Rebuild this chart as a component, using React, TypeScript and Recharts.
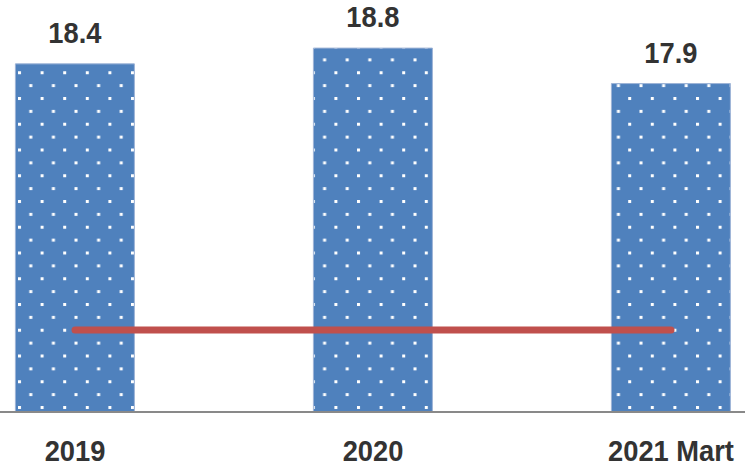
import React from "react";
import { ComposedChart, Bar, Line, XAxis, YAxis, LabelList } from "recharts";

const categories = ["2019", "2020", "2021 Mart"];
const barValues = [18.4, 18.8, 17.9];
const lineValues = [11.65, 11.65, 11.65];
const yDomain: [number, number] = [9.57, 20.02];

const data = categories.map((c, i) => ({ name: c, bar: barValues[i], line: lineValues[i] }));

const FONT = "'Liberation Sans', Arial, sans-serif";
const SX = 0.91;

const Tick = (props: any) => {
  const { x, y, payload } = props;
  return (
    <g transform={`translate(${x},${y + 41}) scale(${SX},1)`}>
      <text x={0} y={0} textAnchor="middle" fontFamily={FONT} fontWeight="bold" fontSize={30} fill="#333333">
        {payload.value}
      </text>
    </g>
  );
};

const BarLabel = (props: any) => {
  const { x, y, width, value } = props;
  return (
    <g transform={`translate(${x + width / 2},${y - 21}) scale(${SX},1)`}>
      <text x={0} y={0} textAnchor="middle" fontFamily={FONT} fontWeight="bold" fontSize={30} fill="#333333">
        {Number(value).toFixed(1)}
      </text>
    </g>
  );
};

export default function App() {
  return (
    <div style={{ position: "absolute", left: 0, top: 0, width: 745, height: 467, overflow: "hidden", background: "#fff" }}>
      <div style={{ position: "absolute", left: -74, top: 0 }}>
        <ComposedChart width={894} height={467} data={data} margin={{ top: 0, right: 0, bottom: 0, left: 0 }} barCategoryGap="30%">
          <defs>
            <pattern id="dots" patternUnits="userSpaceOnUse" x={92} y={406} width={22.6} height={25.75}>
              <rect x={0} y={0} width={22.6} height={25.75} fill="#4F81BD" />
              <rect x={0} y={0} width={3} height={3} fill="#ffffff" />
              <rect x={11.3} y={12.875} width={3} height={3} fill="#ffffff" />
            </pattern>
          </defs>
          <XAxis
            dataKey="name"
            height={55}
            axisLine={{ stroke: "#898989", strokeWidth: 2 }}
            tickLine={false}
            tick={<Tick />}
            interval={0}
          />
          <YAxis hide domain={yDomain} allowDataOverflow />
          <Bar dataKey="bar" fill="url(#dots)" stroke="#9DB3D6" strokeWidth={1} isAnimationActive={false}>
            <LabelList dataKey="bar" content={<BarLabel />} />
          </Bar>
          <Line
            dataKey="line"
            stroke="#C0504D"
            strokeWidth={7}
            strokeLinecap="round"
            dot={false}
            activeDot={false}
            type="linear"
            isAnimationActive={false}
          />
        </ComposedChart>
      </div>
    </div>
  );
}
